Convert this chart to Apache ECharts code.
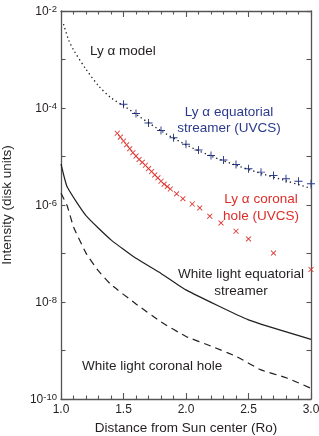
<!DOCTYPE html>
<html>
<head>
<meta charset="utf-8">
<script src="https://cdn.jsdelivr.net/npm/echarts@6/dist/echarts.min.js"></script>
<style>
  html, body { margin: 0; padding: 0; background: #ffffff; }
  #chart { width: 319px; height: 436px; }
</style>
</head>
<body>
<div id="chart"></div>
<script>
// ---- data (distance in solar radii, intensity in disk units) ----
const xTicks = [1.0, 1.5, 2.0, 2.5, 3.0];
const yTickExponents = [-10, -8, -6, -4, -2];

const modelR = [1.02, 1.06, 1.1, 1.2, 1.3, 1.4, 1.5, 1.6, 1.8, 2.0, 2.2, 2.4, 2.6, 2.8, 3.0];
const modelI = [5.37e-3, 2.57e-3, 1.58e-3, 6.31e-4, 2.88e-4, 1.62e-4, 1.12e-4, 7.41e-5, 3.39e-5, 1.74e-5, 1.02e-5, 6.61e-6, 4.47e-6, 3.16e-6, 2.19e-6];

const streamerUvcsR = [1.5, 1.6, 1.7, 1.8, 1.9, 2.0, 2.1, 2.2, 2.3, 2.4, 2.5, 2.6, 2.7, 2.8, 2.9, 3.0];
const streamerUvcsI = [1.20e-4, 7.67e-5, 4.91e-5, 3.42e-5, 2.43e-5, 1.78e-5, 1.36e-5, 1.05e-5, 8.43e-6, 6.87e-6, 5.60e-6, 4.76e-6, 4.07e-6, 3.48e-6, 3.10e-6, 2.74e-6];

const holeUvcsR = [1.45, 1.475, 1.5, 1.525, 1.55, 1.575, 1.6, 1.625, 1.65, 1.675, 1.7, 1.725, 1.75, 1.775, 1.8, 1.825, 1.85, 1.875, 1.925, 1.975, 2.05, 2.11, 2.19, 2.28, 2.4, 2.5, 2.7, 3.0];
const holeUvcsI = [3.02e-5, 2.51e-5, 2.09e-5, 1.74e-5, 1.45e-5, 1.20e-5, 1.02e-5, 8.71e-6, 7.59e-6, 6.61e-6, 5.62e-6, 4.90e-6, 4.17e-6, 3.63e-6, 3.09e-6, 2.69e-6, 2.40e-6, 2.14e-6, 1.70e-6, 1.35e-6, 1.05e-6, 8.71e-7, 5.89e-7, 4.27e-7, 2.88e-7, 2.00e-7, 1.02e-7, 4.68e-8];

const wlStreamerR = [1.0, 1.05, 1.2, 1.4, 1.6, 1.8, 2.0, 2.5, 3.0];
const wlStreamerI = [7.0e-6, 2.34e-6, 6.03e-7, 1.91e-7, 7.94e-8, 3.89e-8, 1.78e-8, 4.27e-9, 1.70e-9];

const wlHoleR = [1.0, 1.05, 1.1, 1.2, 1.3, 1.4, 1.6, 1.8, 2.0, 2.2, 2.4, 2.6, 2.8, 3.0];
const wlHoleI = [1.74e-6, 9.55e-7, 3.55e-7, 1.02e-7, 4.37e-8, 2.29e-8, 9.12e-9, 3.89e-9, 1.95e-9, 1.23e-9, 7.59e-10, 3.98e-10, 2.75e-10, 1.66e-10];

const labels = {
  model: 'Ly α model',
  streamerUvcs: 'Ly α equatorial\nstreamer (UVCS)',
  holeUvcs: 'Ly α coronal\nhole (UVCS)',
  wlStreamer: 'White light equatorial\nstreamer',
  wlHole: 'White light coronal hole',
  xTitle: 'Distance from Sun center (Ro)',
  yTitle: 'Intensity (disk units)'
};

// ---- chart ----
const FONT = '"Liberation Sans", Arial, Helvetica, sans-serif';
const AXIS_COLOR = '#555555';
const BLUE = '#2b3a8c';
const RED = '#dd2e2a';
const INK = '#231f20';

function zip(a, b) { return a.map((v, i) => [v, b[i]]); }

const chart = echarts.init(document.getElementById('chart'), null, { renderer: 'canvas' });

const axisLineStyle = { show: true, lineStyle: { color: AXIS_COLOR, width: 1.3 } };

const plusPath = 'path://M4.4,0h1.2v4.4h4.4v1.2h-4.4v4.4h-1.2v-4.4h-4.4v-1.2h4.4z';

const option = {
  animation: false,
  backgroundColor: '#ffffff',
  textStyle: { fontFamily: FONT },
  grid: { left: 61, right: 8, top: 11, bottom: 37, containLabel: false, outerBoundsMode: 'none' },
  xAxis: [
    {
      type: 'value', position: 'bottom', min: 1, max: 3, interval: 0.5,
      axisLine: axisLineStyle,
      axisTick: { show: true, inside: true, length: 6, lineStyle: { color: AXIS_COLOR, width: 1.1 } },
      minorTick: { show: true, splitNumber: 5, length: 3.5, lineStyle: { color: AXIS_COLOR, width: 1.1 } },
      splitLine: { show: false },
      axisLabel: {
        show: true, margin: 5, color: INK, fontSize: 12, fontFamily: FONT,
        formatter: v => (xTicks.some(t => Math.abs(t - v) < 1e-9) ? v.toFixed(1) : '')
      },
      name: labels.xTitle, nameLocation: 'middle', nameGap: 18,
      nameTextStyle: { color: INK, fontSize: 13.5, fontFamily: FONT }
    },
    {
      type: 'value', position: 'top', min: 1, max: 3, interval: 0.5,
      axisLine: axisLineStyle,
      axisTick: { show: true, inside: true, length: 6, lineStyle: { color: AXIS_COLOR, width: 1.1 } },
      minorTick: { show: true, splitNumber: 5, length: 3.5, lineStyle: { color: AXIS_COLOR, width: 1.1 } },
      splitLine: { show: false },
      axisLabel: { show: false }
    }
  ],
  yAxis: [
    {
      type: 'log', logBase: 10, position: 'left', min: 1e-10, max: 1e-2, interval: 1,
      axisLine: axisLineStyle,
      axisTick: { show: true, inside: true, length: 4.5, lineStyle: { color: AXIS_COLOR, width: 1.1 } },
      splitLine: { show: false },
      axisLabel: {
        show: true, margin: 4, color: INK, fontFamily: FONT,
        formatter: v => {
          const e = Math.round(Math.log10(v));
          return yTickExponents.indexOf(e) >= 0 ? '{b|10}{s|' + e + '}' : '';
        },
        rich: {
          b: { fontSize: 12, fontFamily: FONT, color: INK, lineHeight: 14, verticalAlign: 'bottom' },
          s: { fontSize: 9.5, fontFamily: FONT, color: INK, lineHeight: 4, verticalAlign: 'top' }
        }
      },
      name: labels.yTitle, nameLocation: 'middle', nameGap: 47, nameRotate: 90,
      nameTextStyle: { color: INK, fontSize: 13.5, fontFamily: FONT }
    },
    {
      type: 'log', logBase: 10, position: 'right', min: 1e-10, max: 1e-2, interval: 1,
      axisLine: axisLineStyle,
      axisTick: { show: true, inside: true, length: 4.5, lineStyle: { color: AXIS_COLOR, width: 1.1 } },
      splitLine: { show: false },
      axisLabel: { show: false }
    }
  ],
  series: [
    {
      name: 'model', type: 'line', xAxisIndex: 0, yAxisIndex: 0,
      data: zip(modelR, modelI), smooth: 0.3, showSymbol: false, symbol: 'none',
      lineStyle: { color: '#1a1a2a', width: 1.3, type: [1.3, 3] }
    },
    {
      name: 'wlStreamer', type: 'line', xAxisIndex: 0, yAxisIndex: 0,
      data: zip(wlStreamerR, wlStreamerI), smooth: 0.15, showSymbol: false, symbol: 'none',
      lineStyle: { color: INK, width: 1.2, type: 'solid' }
    },
    {
      name: 'wlHole', type: 'line', xAxisIndex: 0, yAxisIndex: 0,
      data: zip(wlHoleR, wlHoleI), smooth: 0.15, showSymbol: false, symbol: 'none',
      lineStyle: { color: INK, width: 1.2, type: [7, 5] }
    },
    {
      name: 'streamerUvcs', type: 'scatter', xAxisIndex: 0, yAxisIndex: 0,
      data: zip(streamerUvcsR, streamerUvcsI), symbol: plusPath, symbolSize: 8,
      itemStyle: { color: BLUE, opacity: 1 }
    },
    {
      name: 'holeUvcs', type: 'scatter', xAxisIndex: 0, yAxisIndex: 0,
      data: zip(holeUvcsR, holeUvcsI), symbol: plusPath, symbolSize: 7, symbolRotate: 45,
      itemStyle: { color: RED, opacity: 1 }
    }
  ],
  graphic: [
    { type: 'text', left: 90, top: 44, style: { text: labels.model, fill: INK, font: '13.5px ' + FONT } },
    { type: 'text', x: 229, y: 120, style: { text: labels.streamerUvcs, fill: BLUE, font: '13.5px ' + FONT, textAlign: 'center', textVerticalAlign: 'middle', lineHeight: 16 } },
    { type: 'text', x: 261, y: 208, style: { text: labels.holeUvcs, fill: RED, font: '13.5px ' + FONT, textAlign: 'center', textVerticalAlign: 'middle', lineHeight: 16.5 } },
    { type: 'text', x: 241, y: 283, style: { text: labels.wlStreamer, fill: INK, font: '13.5px ' + FONT, textAlign: 'center', textVerticalAlign: 'middle', lineHeight: 16.5 } },
    { type: 'text', x: 82, y: 366, style: { text: labels.wlHole, fill: INK, font: '13.5px ' + FONT, textAlign: 'left', textVerticalAlign: 'middle' } }
  ]
};

chart.setOption(option);
</script>
</body>
</html>
